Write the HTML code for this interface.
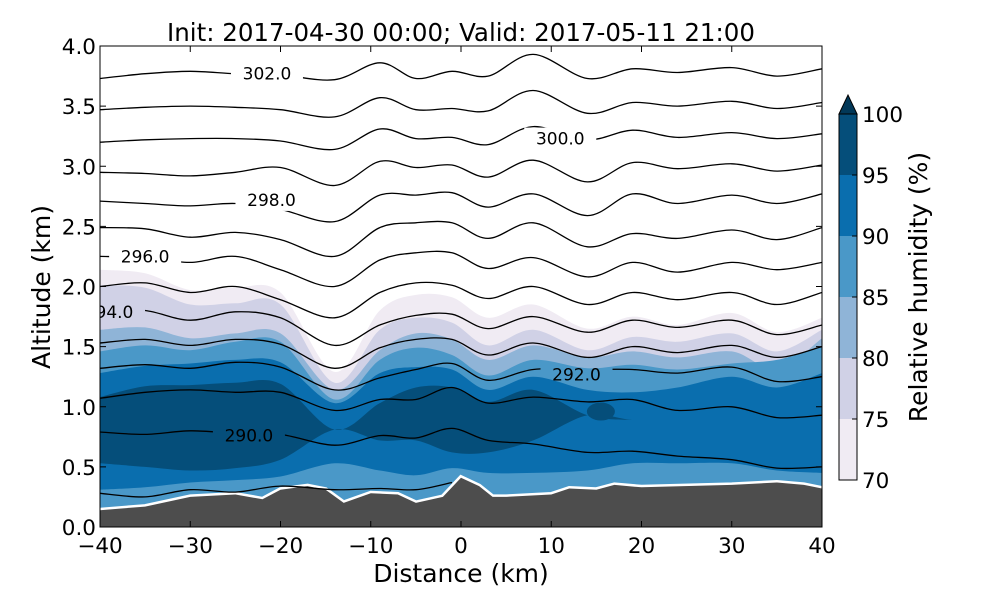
<!DOCTYPE html>
<html><head><meta charset="utf-8"><style>
html,body{margin:0;padding:0;background:#fff;}
svg{display:block;font-family:"DejaVu Sans","Liberation Sans",sans-serif;}
</style></head><body>
<svg id="chart" width="1000" height="600" viewBox="0 0 1000 600">
<defs>
<clipPath id="plotclip"><rect x="100" y="46" width="722" height="481"/></clipPath>
<mask id="labelmask" maskUnits="userSpaceOnUse" x="0" y="0" width="1000" height="600">
<rect x="0" y="0" width="1000" height="600" fill="#fff"/>
<g id="maskholes"></g>
</mask>
</defs>
<text x="461" y="41" font-size="24.5" text-anchor="middle">Init: 2017-04-30 00:00; Valid: 2017-05-11 21:00</text>
<g id="plot" clip-path="url(#plotclip)">
<g id="bands"></g>
<g id="terrain"></g>
<g id="isen" mask="url(#labelmask)"></g>
<g id="isenlabels"></g>
</g>
<g id="axes"></g>
<g id="cbar"></g>
<text x="461" y="582" font-size="25" text-anchor="middle">Distance (km)</text>
<text transform="translate(50,287) rotate(-90)" font-size="25" text-anchor="middle">Altitude (km)</text>
<text transform="translate(927,287) rotate(-90)" font-size="25" text-anchor="middle">Relative humidity (%)</text>
</svg>
<script>
const NS="http://www.w3.org/2000/svg";
const gridX=[-40,-35,-30,-25,-20,-14,-9,-5,-1,3,8,14,19,24,30,35,40];
const terrainX=[-40,-35,-30,-25,-22,-20,-17,-15,-13,-10,-7,-5,-2,0,2,3.5,5,10,12,15,17,20,30,35,38,40];
const terrainAlt=[0.14,0.17,0.25,0.27,0.23,0.31,0.34,0.31,0.2,0.28,0.27,0.2,0.25,0.41,0.34,0.25,0.25,0.27,0.32,0.31,0.35,0.33,0.35,0.37,0.35,0.32];
const rh70=[2.14,2.11,1.97,1.99,1.95,1.29,1.80,1.93,1.91,1.74,1.85,1.65,1.75,1.68,1.78,1.62,1.74];
const rh75=[2.01,1.99,1.85,1.86,1.85,1.20,1.64,1.74,1.70,1.51,1.64,1.47,1.58,1.54,1.61,1.46,1.64];
const rh80=[1.64,1.66,1.57,1.61,1.61,1.14,1.47,1.61,1.56,1.39,1.51,1.41,1.46,1.41,1.46,1.31,1.57];
const rh85=[1.46,1.51,1.47,1.54,1.54,1.06,1.39,1.49,1.43,1.26,1.39,1.32,1.35,1.31,1.36,1.39,1.50];
const rh90=[1.28,1.34,1.36,1.39,1.37,1.03,1.28,1.33,1.31,1.14,1.25,1.14,1.12,1.16,1.25,1.16,1.28];
const rh90Bottom=[0.31,0.33,0.37,0.39,0.42,0.53,0.47,0.43,0.49,0.45,0.45,0.47,0.53,0.53,0.53,0.47,0.45];
const rh95Top=[1.08,1.17,1.18,1.20,1.19,0.81,1.03,1.16,1.16,1.04,1.14,0.93,0.89,0.89,0.89,0.89,0.89];
const rh95Bottom=[0.53,0.50,0.47,0.49,0.56,0.81,0.72,0.72,0.62,0.62,0.72,0.93,0.89,0.89,0.89,0.89,0.89];
const thetaValues=[302,301,300,299,298,297,296,295,294,293,292,291,290,289];
const th302=[3.73,3.77,3.79,3.77,3.76,3.72,3.86,3.73,3.79,3.75,3.93,3.73,3.81,3.78,3.82,3.75,3.81];
const th301=[3.47,3.49,3.50,3.49,3.47,3.41,3.57,3.47,3.48,3.46,3.63,3.44,3.53,3.50,3.54,3.48,3.53];
const th300=[3.20,3.22,3.23,3.23,3.21,3.14,3.31,3.23,3.24,3.18,3.33,3.22,3.30,3.24,3.28,3.23,3.27];
const th299=[2.95,2.94,2.92,2.95,2.99,2.84,3.04,2.99,3.01,2.91,3.05,2.87,3.03,2.98,3.02,2.96,3.01];
const th298=[2.71,2.69,2.67,2.69,2.64,2.54,2.76,2.76,2.78,2.66,2.77,2.59,2.77,2.69,2.76,2.69,2.77];
const th297=[2.49,2.48,2.41,2.45,2.39,2.25,2.49,2.53,2.53,2.40,2.53,2.33,2.44,2.40,2.47,2.39,2.49];
const th296=[2.25,2.24,2.20,2.25,2.14,2.00,2.22,2.28,2.28,2.15,2.24,2.08,2.20,2.12,2.20,2.14,2.20];
const th295=[2.00,2.03,1.95,2.00,1.89,1.74,1.95,2.03,2.01,1.90,2.00,1.85,1.95,1.89,1.95,1.85,1.95];
const th294=[1.80,1.80,1.72,1.79,1.74,1.51,1.68,1.76,1.77,1.65,1.75,1.62,1.72,1.66,1.72,1.60,1.68];
const th293=[1.53,1.56,1.51,1.56,1.52,1.32,1.49,1.56,1.56,1.43,1.53,1.41,1.50,1.45,1.51,1.41,1.50];
const th292=[1.32,1.35,1.32,1.37,1.33,1.14,1.24,1.31,1.36,1.22,1.31,1.31,1.31,1.28,1.33,1.21,1.25];
const th291=[1.07,1.12,1.14,1.12,1.12,0.97,1.06,1.06,1.16,1.03,1.08,1.04,1.06,0.97,1.00,0.91,0.93];
const th290=[0.79,0.77,0.80,0.78,0.77,0.68,0.76,0.74,0.82,0.72,0.69,0.62,0.63,0.59,0.56,0.49,0.50];
const th289=[0.28,0.25,0.31,0.29,0.34,0.31,0.32,0.31,0.37];
const xTicks=[-40,-30,-20,-10,0,10,20,30,40];
const yTicks=[0.0,0.5,1.0,1.5,2.0,2.5,3.0,3.5,4.0];
const cbarTicks=[70,75,80,85,90,95,100];
const labelTexts=["302.0","300.0","298.0","296.0","294.0","292.0","290.0"];
const labelX=[-21.5,11,-21,-35,-39,12.8,-23.5];
const labelAlt=[3.77,3.23,2.72,2.25,1.79,1.27,0.76];

const X0=100,X1=822,Y0=527,Y1=46;
function sx(v){return X0+(v+40)/80*(X1-X0);}
function sy(v){return Y0-v/4*(Y0-Y1);}
function el(tag,attrs,parent){const e=document.createElementNS(NS,tag);for(const k in attrs)e.setAttribute(k,attrs[k]);parent.appendChild(e);return e;}
function curve(xs,ys,start){
  const p=xs.map((x,i)=>[sx(x),sy(ys[i])]);
  let d=(start?"M":"L")+p[0][0].toFixed(1)+","+p[0][1].toFixed(1);
  for(let i=0;i<p.length-1;i++){
    const a=p[i-1]||p[i],b=p[i],c=p[i+1],e=p[i+2]||p[i+1];
    const c1=[b[0]+(c[0]-a[0])/6,b[1]+(c[1]-a[1])/6],c2=[c[0]-(e[0]-b[0])/6,c[1]-(e[1]-b[1])/6];
    d+="C"+c1[0].toFixed(1)+","+c1[1].toFixed(1)+" "+c2[0].toFixed(1)+","+c2[1].toFixed(1)+" "+c[0].toFixed(1)+","+c[1].toFixed(1);
  }
  return d;
}
const bands=document.getElementById('bands');
const bandDefs=[[rh70,"#f0ebf3","band-70"],[rh75,"#d0d1e6","band-75"],[rh80,"#8fb4d7","band-80"],[rh85,"#4a98c8","band-85"],[rh90,"#0a6eae","band-90"]];
bandDefs.forEach(b=>{
  const p=el('path',{d:curve(gridX,b[0],true)+"L822,540L100,540Z",fill:b[1]},bands);
  
  
});
const low=el('path',{d:curve(gridX,rh90Bottom,true)+"L822,540L100,540Z",fill:"#4a98c8"},bands);


const rx=gridX.slice().reverse(),rb=rh95Bottom.slice().reverse();
const dark=el('path',{d:curve(gridX,rh95Top,true)+curve(rx,rb,false)+"Z",fill:"#054e7a"},bands);


const blob=el('ellipse',{cx:sx(15.5),cy:sy(0.96),rx:14,ry:9,fill:"#054e7a"},bands);


const tg=document.getElementById('terrain');
let tp="M"+terrainX.map((x,i)=>sx(x).toFixed(1)+","+sy(terrainAlt[i]).toFixed(1)).join("L");
const tw=el('path',{d:tp,fill:"none",stroke:"#fff","stroke-width":5},tg);


const tf=el('path',{d:tp+"L822,540L100,540Z",fill:"#4d4d4d"},tg);


const lines=[th302,th301,th300,th299,th298,th297,th296,th295,th294,th293,th292,th291,th290,th289];
const ig=document.getElementById('isen');
lines.forEach((ln,i)=>{
  const p=el('path',{d:curve(gridX.slice(0,ln.length),ln,true),fill:"none",stroke:"#000","stroke-width":1.3},ig);
  
  
});
const holes=document.getElementById('maskholes'),lg=document.getElementById('isenlabels');
labelTexts.forEach((t,i)=>{
  const cx=sx(labelX[i]),cy=sy(labelAlt[i]);
  el('rect',{x:cx-36,y:cy-11,width:72,height:22,fill:"#000"},holes);
  const tx=el('text',{x:cx,y:cy+6,"font-size":17,"text-anchor":"middle"},lg);
  tx.textContent=t;
  
  
});
const ax=document.getElementById('axes');
const fr=el('rect',{x:100,y:46,width:722,height:481,fill:"none",stroke:"#000","stroke-width":1},ax);


xTicks.forEach(v=>{
  const x=sx(v);
  el('line',{x1:x,x2:x,y1:527,y2:521,stroke:"#000"},ax);
  el('line',{x1:x,x2:x,y1:46,y2:52,stroke:"#000"},ax);
  const t=el('text',{x:x,y:553,"font-size":21.5,"text-anchor":"middle"},ax);
  t.textContent=(v<0?"\u2212":"")+Math.abs(v);
  
  
});
yTicks.forEach(v=>{
  const y=sy(v);
  el('line',{x1:100,x2:106,y1:y,y2:y,stroke:"#000"},ax);
  el('line',{x1:822,x2:816,y1:y,y2:y,stroke:"#000"},ax);
  const t=el('text',{x:96,y:y+8,"font-size":21.5,"text-anchor":"end"},ax);
  t.textContent=v.toFixed(1);
  
  
});
const cb=document.getElementById('cbar');
const cbCols=["#f0ebf3","#d0d1e6","#8fb4d7","#4a98c8","#0a6eae","#054e7a"];
function cy(v){return 480-(v-70)/30*366;}
cbCols.forEach((c,i)=>{
  const r=el('rect',{x:839,y:cy(cbarTicks[i+1]),width:18,height:cy(cbarTicks[i])-cy(cbarTicks[i+1]),fill:c},cb);
  
  
});
const tri=el('path',{d:"M839,114L848,95L857,114Z",fill:"#023858",stroke:"#000","stroke-width":1},cb);


el('rect',{x:839,y:114,width:18,height:366,fill:"none",stroke:"#000","stroke-width":1},cb);
cbarTicks.forEach(v=>{
  const y=cy(v);
  el('line',{x1:857,x2:852,y1:y,y2:y,stroke:"#000"},cb);
  const t=el('text',{x:862,y:y+8,"font-size":21.5},cb);
  t.textContent=v;
  
  
});
</script>
</body></html>
